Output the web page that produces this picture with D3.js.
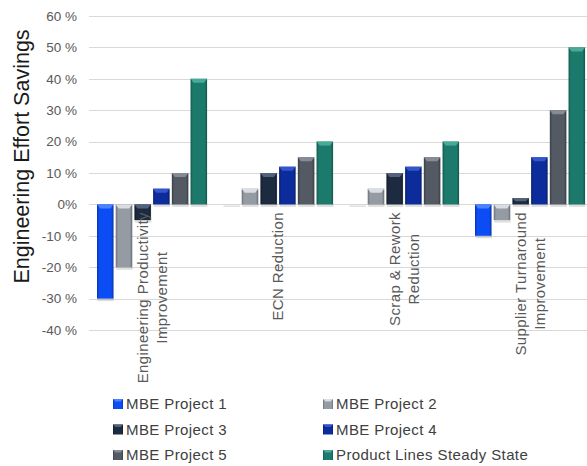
<!DOCTYPE html>
<html>
<head>
<meta charset="utf-8">
<script src="https://cdn.jsdelivr.net/npm/d3@7"></script>
<style>
  body { margin: 0; background: #fff; }
  svg { display: block; font-family: "Liberation Sans", Arial, sans-serif; }
</style>
</head>
<body>
<div id="chart-container"></div>
<script>
const width = 587, height = 466;

// data
const categories = [
  ["Engineering Productivity", "Improvement"],
  ["ECN Reduction"],
  ["Scrap & Rework", "Reduction"],
  ["Supplier Turnaround", "Improvement"]
];
const seriesNames = ["MBE Project 1", "MBE Project 2", "MBE Project 3", "MBE Project 4", "MBE Project 5", "Product Lines Steady State"];
const project1 = [-0.30, 0.00, 0.00, -0.10];
const project2 = [-0.20, 0.05, 0.05, -0.05];
const project3 = [-0.05, 0.10, 0.10, 0.02];
const project4 = [0.05, 0.12, 0.12, 0.15];
const project5 = [0.10, 0.15, 0.15, 0.30];
const steadyState = [0.40, 0.20, 0.20, 0.50];
const yTicks = [-0.4, -0.3, -0.2, -0.1, 0, 0.1, 0.2, 0.3, 0.4, 0.5, 0.6];
const yTickLabels = ["-40 %", "-30 %", "-20 %", "-10 %", "0%", "10 %", "20 %", "30 %", "40 %", "50 %", "60 %"];

const seriesValues = [project1, project2, project3, project4, project5, steadyState];
// base, light, dark
const palette = [
  ["#0b4cf5", "#4a82ff", "#0833b0"],
  ["#959ba3", "#dadde1", "#6b7078"],
  ["#1d2b40", "#52627a", "#111a28"],
  ["#0c2c9c", "#3456cc", "#081e6e"],
  ["#535a64", "#858c96", "#383d45"],
  ["#1c7a6c", "#47ab98", "#11574c"]
];

const svg = d3.select("#chart-container").append("svg")
  .attr("width", width).attr("height", height);

const defs = svg.append("defs");
palette.forEach((c, i) => {
  const gr = defs.append("linearGradient").attr("id", "grad" + i)
    .attr("x1", "0").attr("x2", "1").attr("y1", "0").attr("y2", "0");
  gr.append("stop").attr("offset", "0%").attr("stop-color", c[2]);
  gr.append("stop").attr("offset", "14%").attr("stop-color", c[0]);
  gr.append("stop").attr("offset", "50%").attr("stop-color", c[0]);
  gr.append("stop").attr("offset", "86%").attr("stop-color", c[0]);
  gr.append("stop").attr("offset", "100%").attr("stop-color", c[2]);
});

const y = d3.scaleLinear().domain([-0.4, 0.6]).range([330, 16]);
const x0 = d3.scaleBand().domain(d3.range(categories.length)).range([89, 593]);
const x1 = d3.scaleBand().domain(d3.range(seriesNames.length)).range([8, 118]).paddingInner(0.12);

// grid
svg.append("g").selectAll("line").data(yTicks).enter().append("line")
  .attr("x1", 89).attr("x2", width)
  .attr("y1", d => Math.round(y(d)) + 0.5).attr("y2", d => Math.round(y(d)) + 0.5)
  .attr("stroke", "#d9d9d9").attr("stroke-width", 1);

// y labels
svg.append("g").selectAll("text").data(yTicks).enter().append("text")
  .attr("x", 77).attr("y", d => y(d))
  .attr("dy", "0.35em")
  .attr("text-anchor", "end")
  .attr("fill", "#595959")
  .style("font-size", "13.5px")
  .text((d, i) => yTickLabels[i]);

// axis title
svg.append("text")
  .attr("transform", `translate(21,${(23 + 290) / 2}) rotate(-90)`)
  .attr("text-anchor", "middle")
  .attr("dy", "0.35em")
  .attr("fill", "#1a1a1a")
  .style("font-size", "21.5px")
  .text("Engineering Effort Savings");

// bars
const barData = [];
seriesValues.forEach((vals, s) => vals.forEach((v, c) => barData.push({ s, c, v })));

const bars = svg.append("g");
const bw = x1.bandwidth();
barData.forEach(d => {
  const bx = x0(d.c) + x1(d.s);
  const top = Math.min(y(d.v), y(0));
  const h = Math.abs(y(d.v) - y(0));
  // shadow
  bars.append("rect")
    .attr("x", bx + 0.5).attr("y", top + 1)
    .attr("width", bw).attr("height", h + 1.5)
    .attr("fill", "rgba(0,0,0,0.13)");
  if (h <= 0) return;
  bars.append("rect")
    .attr("x", bx).attr("y", top)
    .attr("width", bw).attr("height", h)
    .attr("fill", `url(#grad${d.s})`);
  const bev = Math.min(4, h / 2);
  bars.append("polygon")
    .attr("points", [
      [bx, top], [bx + bw, top], [bx + bw - 3, top + bev], [bx + 3, top + bev]
    ].map(p => p.join(",")).join(" "))
    .attr("fill", palette[d.s][1]);
});

// category labels
const labelTop = 212;
const lineGap = 19;
categories.forEach((lines, c) => {
  const cx = x0(c) + x0.bandwidth() / 2;
  const g = svg.append("g");
  const texts = lines.map((t, i) => g.append("text")
    .attr("text-anchor", "middle")
    .attr("dy", "0.35em")
    .attr("fill", "#595959")
    .style("font-size", "15px")
    .style("letter-spacing", "0.4px")
    .text(t));
  const L = d3.max(texts, t => t.node().getComputedTextLength());
  texts.forEach((t, i) => {
    const lx = cx + (i - (lines.length - 1) / 2) * lineGap;
    t.attr("transform", `translate(${lx},${labelTop + L / 2}) rotate(-90)`);
  });
});

// legend
const legendCols = [113, 323];
const legendRows = [404, 429.5, 455];
const legend = svg.append("g");
seriesNames.forEach((name, i) => {
  const lx = legendCols[i % 2], ly = legendRows[Math.floor(i / 2)];
  legend.append("rect")
    .attr("x", lx).attr("y", ly - 5).attr("width", 10).attr("height", 10)
    .attr("fill", `url(#grad${i})`);
  legend.append("polygon")
    .attr("points", [[lx, ly - 5], [lx + 10, ly - 5], [lx + 7.5, ly - 2.5], [lx + 2.5, ly - 2.5]].map(p => p.join(",")).join(" "))
    .attr("fill", palette[i][1]);
  legend.append("text")
    .attr("x", lx + 13).attr("y", ly)
    .attr("dy", "0.35em")
    .attr("fill", "#404040")
    .style("font-size", "15px")
    .style("letter-spacing", "0.4px")
    .text(name);
});
</script>
</body>
</html>
